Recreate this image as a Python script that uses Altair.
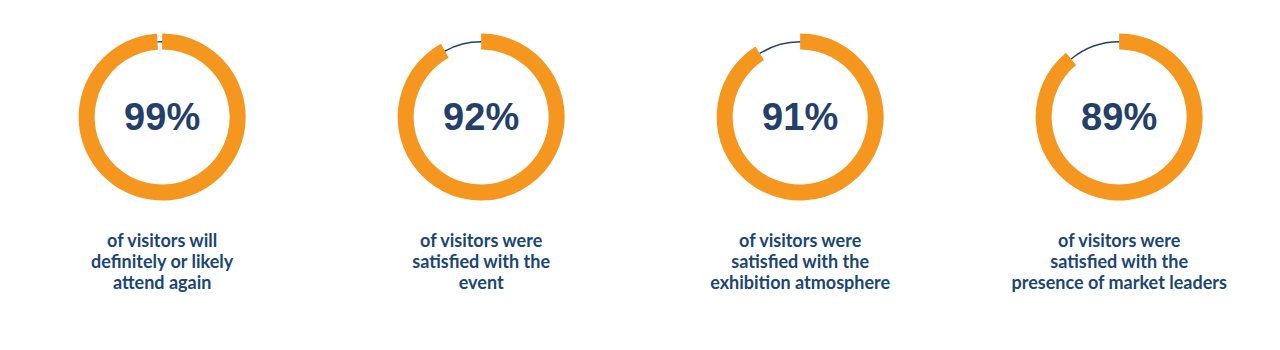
import altair as alt
import pandas as pd
import math

values = [99, 92, 91, 89]
pct_labels = ["99%", "92%", "91%", "89%"]
captions = [
    ["of visitors will", "definitely or likely", "attend again"],
    ["of visitors were", "satisfied with the", "event"],
    ["of visitors were", "satisfied with the", "exhibition atmosphere"],
    ["of visitors were", "satisfied with the", "presence of market leaders"],
]

ORANGE = "#f5961f"
NAVY = "#233f6a"
CAP = "#1b4674"
PANEL_W = 318.3
PANEL_H = 350
CX = PANEL_W / 2
CY = 117

theta_scale = alt.Scale(domain=[0, 100], range=[0, 2 * math.pi])

panels = []
for v, lab, cap in zip(values, pct_labels, captions):
    df = pd.DataFrame({
        "part": ["filled", "rest"],
        "start": [0, v],
        "end": [v, 100],
    })
    base = alt.Chart(df)
    filled = base.transform_filter(alt.datum.part == "filled").mark_arc(
        radius=83.5, radius2=67.5, color=ORANGE
    ).encode(
        theta=alt.Theta("start:Q", scale=theta_scale),
        theta2="end:Q",
        x=alt.value(CX), y=alt.value(CY),
    )
    rest = base.transform_filter(alt.datum.part == "rest").mark_arc(
        radius=76, radius2=74.6, color=NAVY
    ).encode(
        theta=alt.Theta("start:Q", scale=theta_scale),
        theta2="end:Q",
        x=alt.value(CX), y=alt.value(CY),
    )
    tdf = pd.DataFrame({"label": [lab], "cap": ["\n".join(cap)]})
    pct = alt.Chart(tdf).mark_text(
        font="Liberation Sans", fontWeight="bold", fontSize=38, color=NAVY,
        align="center", baseline="middle"
    ).encode(text="label:N", x=alt.value(CX), y=alt.value(CY + 2))
    captxt = alt.Chart(tdf).mark_text(
        font="Lato", fontWeight="bold", fontSize=18, color=CAP,
        align="center", baseline="middle", lineBreak="\n", lineHeight=21
    ).encode(text="cap:N", x=alt.value(CX), y=alt.value(242))
    panels.append(
        alt.layer(filled, rest, pct, captxt).properties(width=PANEL_W, height=PANEL_H)
    )

chart = alt.hconcat(*panels, spacing=0).properties(
    padding={"left": 3, "right": 0, "top": 0, "bottom": 0},
    background="white",
).configure_view(stroke=None)

chart.save("out.html", embed_options={"renderer": "svg", "actions": False})
